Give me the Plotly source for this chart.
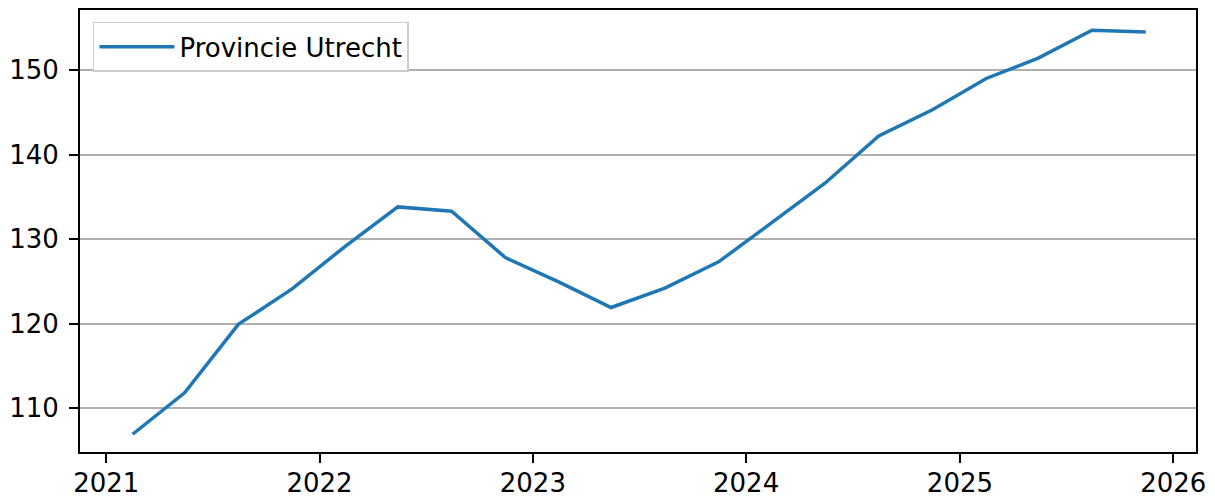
import plotly.graph_objects as go

# Quarterly dates (mid-quarter) 2021Q1 .. 2025Q4
dates = [
    "2021-02-15", "2021-05-15", "2021-08-15", "2021-11-15",
    "2022-02-15", "2022-05-15", "2022-08-15", "2022-11-15",
    "2023-02-15", "2023-05-15", "2023-08-15", "2023-11-15",
    "2024-02-15", "2024-05-15", "2024-08-15", "2024-11-15",
    "2025-02-15", "2025-05-15", "2025-08-15", "2025-11-15",
]
utrecht = [
    106.9, 111.8, 119.9, 124.1,
    129.2, 133.8, 133.3, 127.8,
    124.9, 121.9, 124.2, 127.3,
    132.0, 136.6, 142.2, 145.3,
    149.0, 151.4, 154.7, 154.5,
]
series_name = "Provincie Utrecht"
x_tick_vals = ["2021-01-01", "2022-01-01", "2023-01-01", "2024-01-01", "2025-01-01", "2026-01-01"]
x_tick_text = ["2021", "2022", "2023", "2024", "2025", "2026"]
y_tick_vals = [110, 120, 130, 140, 150]

fig = go.Figure()
fig.add_trace(go.Scatter(
    x=dates, y=utrecht, mode="lines", name=series_name,
    line=dict(color="#1f77b4", width=3.5),
))

fig.update_layout(
    width=1215, height=498,
    margin=dict(l=72, r=27, t=2, b=54, autoexpand=False),
    paper_bgcolor="white", plot_bgcolor="white",
    font=dict(family="DejaVu Sans", size=26, color="black"),
    showlegend=True,
    legend=dict(
        x=0.0116, y=0.973, xanchor="left", yanchor="top",
        bgcolor="white", bordercolor="#cccccc", borderwidth=1.5,
        font=dict(size=26), itemwidth=75,
    ),
    xaxis=dict(
        type="date", automargin=False,
        range=["2020-11-17", "2026-02-09"],
        tickvals=x_tick_vals, ticktext=x_tick_text,
        showgrid=False, zeroline=False,
        showline=True, linecolor="black", linewidth=2, mirror=True,
        ticks="outside", ticklen=9, tickwidth=1.8, tickcolor="black",
        ticklabelstandoff=-2,
    ),
    yaxis=dict(
        automargin=False,
        range=[104.8, 157.1],
        tickvals=y_tick_vals,
        showgrid=True, gridcolor="#b0b0b0", gridwidth=1.6,
        zeroline=False,
        showline=True, linecolor="black", linewidth=2, mirror=True,
        ticks="outside", ticklen=9, tickwidth=1.8, tickcolor="black",
        ticklabelstandoff=5,
    ),
)

fig.write_html("out.html")
